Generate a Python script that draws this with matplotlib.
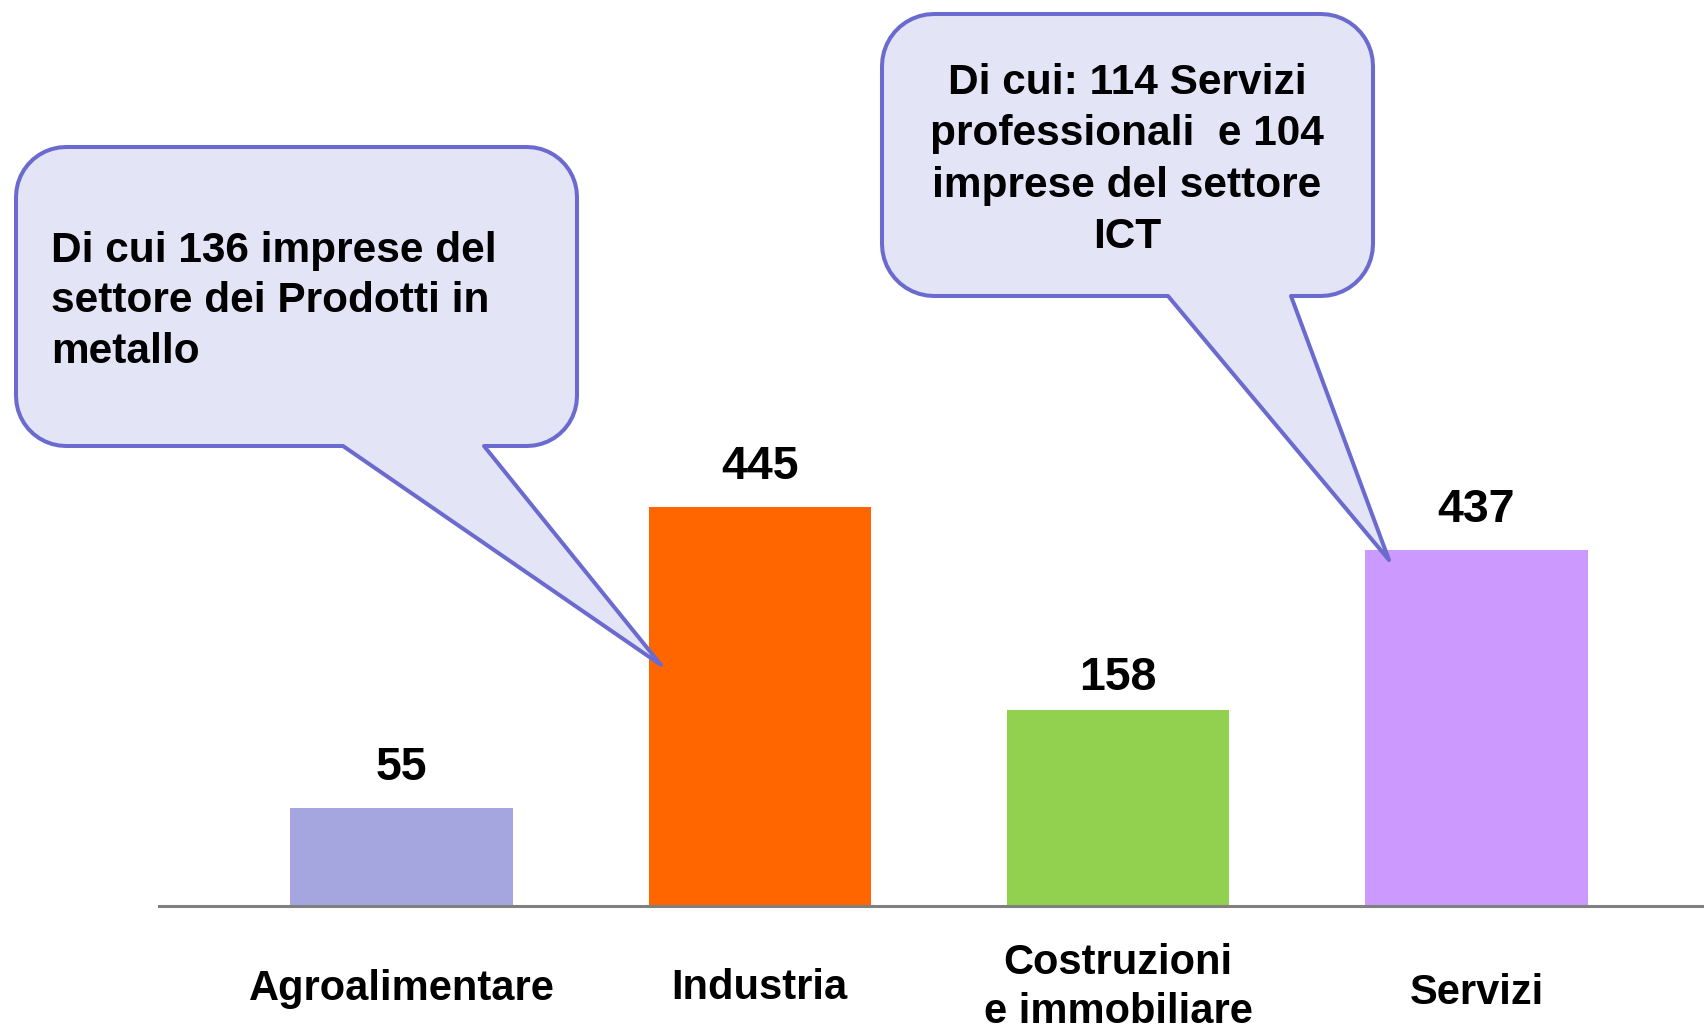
import numpy as np
import matplotlib
matplotlib.use('Agg')
import matplotlib.pyplot as plt
from matplotlib.path import Path
from matplotlib.patches import PathPatch

plt.rcParams['font.family'] = ['Liberation Sans', 'DejaVu Sans']
plt.rcParams['font.weight'] = 'bold'

# data
categories = ['Agroalimentare', 'Industria', 'Costruzioni\ne immobiliare', 'Servizi']
values = [55, 445, 158, 437]
# the drawn bars are not to scale with the printed values; heights as seen
bar_heights = [109, 445, 219, 397]
colors = ['#A5A5E0', '#FF6600', '#92D050', '#CC99FF']

left_note = ['Di cui 136 imprese del', 'settore dei Prodotti in', 'metallo']
right_note = ['Di cui: 114 Servizi', 'professionali  e 104', 'imprese del settore', 'ICT']

W, H = 1704, 1027
EDGE = '#6B6BCF'
FILL = '#E4E4F7'


def callout_path(x0, y0, x1, y1, r, ta, tb, tip):
    # rounded box with a tail on the bottom edge, pixel coords (y down)
    def arc(cx, cy, a0, a1):
        t = np.radians(np.linspace(a0, a1, 12))
        return [(cx + r * np.cos(t_), cy + r * np.sin(t_)) for t_ in t]
    pts = [(x0 + r, y0), (x1 - r, y0)]
    pts += arc(x1 - r, y0 + r, -90, 0)
    pts += [(x1, y1 - r)]
    pts += arc(x1 - r, y1 - r, 0, 90)
    pts += [(tb, y1), tip, (ta, y1)]
    pts += arc(x0 + r, y1 - r, 90, 180)
    pts += [(x0, y0 + r)]
    pts += arc(x0 + r, y0 + r, 180, 270)
    pts.append(pts[0])
    codes = [Path.MOVETO] + [Path.LINETO] * (len(pts) - 2) + [Path.CLOSEPOLY]
    return Path(pts, codes)


def main():
    fig = plt.figure(figsize=(W / 100, H / 100), dpi=100)

    ax = fig.add_axes([159 / W, (H - 906) / H, 1 - 159 / W, 906 / H])
    x = np.arange(len(categories))
    ax.bar(x, bar_heights, width=0.62, color=colors, zorder=1)
    ax.set_xlim(-0.677, 3.635)
    ax.set_ylim(0, 1011.7)
    for s in ['left', 'top', 'right']:
        ax.spines[s].set_visible(False)
    ax.spines['bottom'].set_color('#808080')
    ax.spines['bottom'].set_linewidth(2.2)
    ax.set_xticks([])
    ax.set_yticks([])
    ax.patch.set_alpha(0)

    label_off = [20.5, 20.5, 14.5, 20.5]
    for i, (h, v) in enumerate(zip(bar_heights, values)):
        ax.annotate(str(v), (i, h), xytext=(0, label_off[i]), textcoords='offset points',
                    ha='center', va='baseline', fontsize=33.5, fontweight='bold')

    # category labels, one baseline per line
    first_base = [1000, 999, 974, 1004]
    over = fig.add_axes([0, 0, 1, 1], zorder=5)
    over.set_xlim(0, W)
    over.set_ylim(H, 0)
    over.axis('off')
    over.patch.set_alpha(0)
    trans = matplotlib.transforms.blended_transform_factory(ax.transData, over.transData)
    for i, cat in enumerate(categories):
        for j, line in enumerate(cat.split('\n')):
            over.text(i, first_base[i] + 49 * j, line, transform=trans,
                      ha='center', va='baseline', fontsize=30, fontweight='bold')

    # callouts
    p1 = callout_path(16, 147, 577, 446, 50, 343, 484, (661, 665))
    over.add_patch(PathPatch(p1, facecolor=FILL, edgecolor=EDGE, lw=2.9,
                             joinstyle='round'))
    for j, line in enumerate(left_note):
        over.text(51, 262 + 50.5 * j, line, ha='left', va='baseline',
                  fontsize=30.5, fontweight='bold')

    p2 = callout_path(882, 14, 1373, 296, 52, 1168, 1291, (1389, 560))
    over.add_patch(PathPatch(p2, facecolor=FILL, edgecolor=EDGE, lw=2.9,
                             joinstyle='round'))
    for j, line in enumerate(right_note):
        over.text(1127, 94.5 + 51 * j, line, ha='center', va='baseline',
                  fontsize=30.5, fontweight='bold')

    fig.savefig('out.png', dpi=100)


if __name__ == '__main__':
    main()
